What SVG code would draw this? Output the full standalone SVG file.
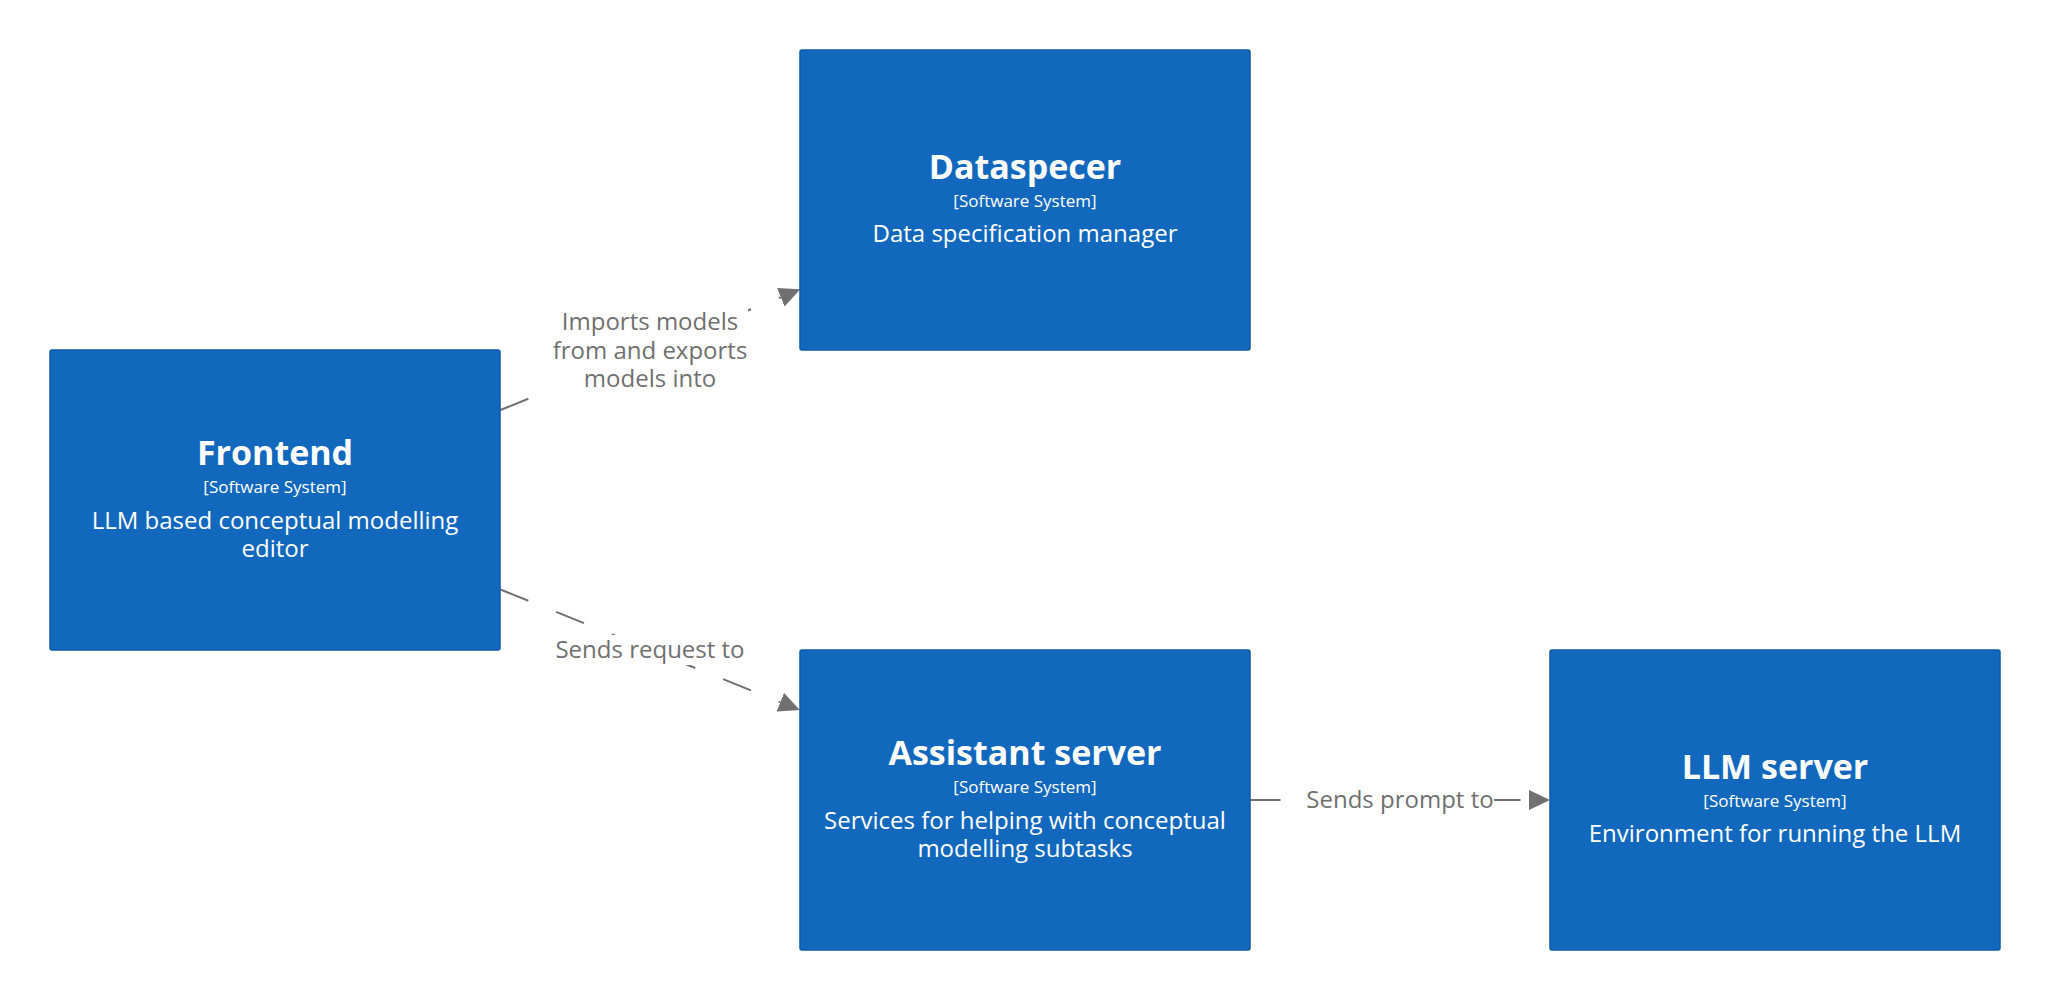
<svg xmlns="http://www.w3.org/2000/svg" width="2050" height="1000" viewBox="0 0 2050 1000">
<defs>
<style>
.box{fill:#1168BD;stroke:#0E5AA6;stroke-width:1.5}
.t{font-family:"Open Sans","Liberation Sans",sans-serif;fill:#ffffff;text-anchor:middle}
.name{font-size:34px;font-weight:bold}
.type{font-size:17px}
.desc{font-size:24px}
.rel{fill:none;stroke:#707070;stroke-width:2;stroke-dasharray:30 30}
.lbg{fill:#ffffff}
.lbl{font-family:"Open Sans","Liberation Sans",sans-serif;font-size:24px;fill:#707070;text-anchor:middle}
</style>
<marker id="arr" markerUnits="userSpaceOnUse" viewBox="0 0 21 20" refX="0" refY="10" markerWidth="21" markerHeight="20" orient="auto">
<path d="M0,0 L21,10 L0,20 z" fill="#707070"/>
</marker>
</defs>
<rect width="2050" height="1000" fill="#ffffff"/>
<g id="connectors">
<g id="rel-frontend-dataspecer">
<path class="rel" d="M500.5,410 L780.8,297.2" marker-end="url(#arr)"/>
<rect class="lbg" x="553" y="307" width="195" height="87"/>
<text class="lbl" x="650" y="330">Imports models</text>
<text class="lbl" x="650" y="358.5">from and exports</text>
<text class="lbl" x="650" y="387">models into</text>
</g>
<g id="rel-frontend-assistant">
<path class="rel" d="M500.5,589.5 L780.3,702.2" marker-end="url(#arr)"/>
<rect class="lbg" x="555" y="635" width="189" height="30"/>
<text class="lbl" x="650" y="658">Sends request to</text>
</g>
<g id="rel-assistant-llm">
<path class="rel" d="M1250.5,800 L1529,800" marker-end="url(#arr)"/>
<rect class="lbg" x="1306" y="785" width="188" height="30"/>
<text class="lbl" x="1400" y="808">Sends prompt to</text>
</g>
</g>
<g id="dataspecer">
<rect class="box" x="800" y="50" width="450" height="300" rx="2"/>
<text class="t name" x="1025" y="179">Dataspecer</text>
<text class="t type" x="1025" y="207">[Software System]</text>
<text class="t desc" x="1025" y="242">Data specification manager</text>
</g>
<g id="frontend">
<rect class="box" x="50" y="350" width="450" height="300" rx="2"/>
<text class="t name" x="275" y="465">Frontend</text>
<text class="t type" x="275" y="493">[Software System]</text>
<text class="t desc" x="275" y="529">LLM based conceptual modelling</text>
<text class="t desc" x="275" y="557">editor</text>
</g>
<g id="assistant-server">
<rect class="box" x="800" y="650" width="450" height="300" rx="2"/>
<text class="t name" x="1025" y="765">Assistant server</text>
<text class="t type" x="1025" y="793">[Software System]</text>
<text class="t desc" x="1025" y="829">Services for helping with conceptual</text>
<text class="t desc" x="1025" y="857">modelling subtasks</text>
</g>
<g id="llm-server">
<rect class="box" x="1550" y="650" width="450" height="300" rx="2"/>
<text class="t name" x="1775" y="779">LLM server</text>
<text class="t type" x="1775" y="807">[Software System]</text>
<text class="t desc" x="1775" y="842">Environment for running the LLM</text>
</g>
</svg>
